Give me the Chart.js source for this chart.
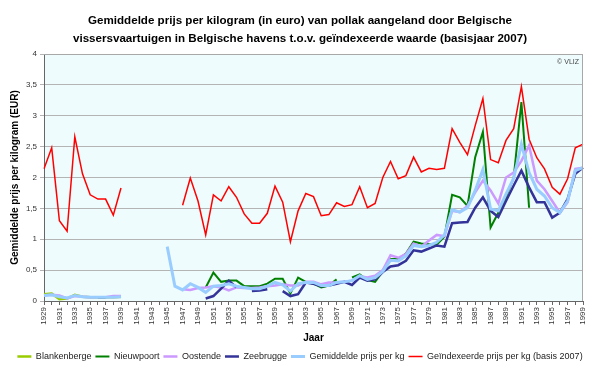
<!DOCTYPE html>
<html><head><meta charset="utf-8">
<script src="https://cdn.jsdelivr.net/npm/chart.js@4/dist/chart.umd.min.js"></script>
<style>html,body{margin:0;padding:0;background:#fff}#wrap{width:600px;height:368px}</style>
</head><body><div id="wrap"><canvas id="c" width="600" height="368"></canvas></div>
<script>
const years = [];
for (let y = 1929; y <= 1999; y++) years.push(String(y));

const blankenberge = [0.11,0.12,0.03,0.04,0.10,0.07,0.06,0.06,0.06,0.06,0.07,
  null,null,null,null,null,null,null,null,null,null,
  null,null,null,null,null,null,null,null,null,null,
  null,null,null,null,null,null,null,null,null,null,
  null,null,null,null,null,null,null,null,null,null,
  null,null,null,null,null,null,null,null,null,null,
  null,null,null,null,null,null,null,null,null,null];

const nieuwpoort = [null,null,null,null,null,null,null,0.05,0.05,
  null,null,null,null,null,null,null,null,null,null,null,null,
  0.22,0.46,0.31,0.33,0.33,0.24,0.24,0.24,0.28,0.36,
  0.36,0.12,0.38,0.31,0.28,0.22,0.25,0.35,null,0.38,
  0.43,0.34,0.31,0.48,0.68,0.68,0.77,0.96,0.93,0.92,
  0.91,1.04,1.72,1.68,1.54,2.33,2.74,1.19,1.43,1.68,
  2.00,3.22,1.51,
  null,null,null,null,null,null,null];

const oostende = [0.09,0.10,0.09,0.04,0.08,0.07,0.06,0.06,0.06,0.08,0.08,
  null,null,null,null,null,null,null,
  0.19,0.18,0.21,0.22,0.24,0.22,0.17,0.22,0.21,0.21,
  0.22,0.24,0.25,0.27,0.25,0.25,0.31,0.31,0.27,0.30,
  0.30,0.31,0.33,0.40,0.38,0.41,0.50,0.74,0.70,0.76,
  0.93,0.88,0.98,1.07,1.05,1.46,1.44,1.54,1.76,1.95,
  1.79,1.58,2.00,2.08,2.27,2.52,1.95,1.81,1.62,1.43,
  1.60,2.14,2.16];

const zeebrugge = [null,null,null,null,null,null,null,null,null,null,null,
  null,null,null,null,null,null,null,null,null,null,
  0.04,0.08,0.20,0.33,0.22,null,0.16,0.17,0.19,null,
  0.16,0.08,0.11,0.30,0.28,0.24,0.25,0.28,0.31,0.26,
  0.38,0.33,0.35,0.47,0.56,0.58,0.65,0.82,0.80,0.85,
  0.90,0.88,1.26,1.27,1.28,1.51,1.68,1.46,1.36,1.62,
  1.87,2.11,1.84,1.60,1.60,1.35,1.43,1.65,2.06,2.16];

const gemiddelde = [0.09,0.10,0.07,0.05,0.09,0.07,0.06,0.06,0.06,0.06,0.07,
  null,null,null,null,null,
  0.88,0.24,0.18,0.28,0.22,0.14,0.24,0.25,0.28,0.24,
  0.22,0.20,0.20,0.24,0.30,0.26,0.16,0.28,0.30,0.30,
  0.25,0.25,0.30,0.31,0.33,0.41,0.35,0.38,0.48,0.66,
  0.65,0.73,0.90,0.88,0.90,0.95,1.07,1.48,1.44,1.51,
  1.79,2.13,1.49,1.46,1.73,1.99,2.54,2.08,1.81,1.70,
  1.51,1.43,1.62,2.11,2.16];

const geindexeerd = [2.14,2.48,1.30,1.13,2.66,2.06,1.72,1.65,1.65,1.39,1.83,
  null,null,null,null,null,null,null,
  1.55,1.99,1.62,1.07,1.72,1.62,1.85,1.68,1.41,1.26,
  1.26,1.42,1.86,1.60,0.96,1.46,1.74,1.69,1.38,1.40,
  1.59,1.53,1.56,1.85,1.51,1.58,2.00,2.26,1.98,2.03,
  2.33,2.09,2.15,2.13,2.15,2.79,2.57,2.37,2.84,3.28,
  2.29,2.24,2.60,2.79,3.47,2.62,2.32,2.14,1.84,1.73,
  1.98,2.48,2.54];

const yTicks = [0,0.5,1,1.5,2,2.5,3,3.5,4];

const bgPlugin = {
  id: 'bg',
  beforeDraw(chart) {
    const a = chart.chartArea, ctx = chart.ctx;
    ctx.save();
    ctx.fillStyle = '#eefcfd';
    ctx.fillRect(a.left, a.top, a.right - a.left, a.bottom - a.top);
    ctx.restore();
  },
  afterDatasetsDraw(chart) {
    const a = chart.chartArea, ctx = chart.ctx;
    ctx.save();
    ctx.strokeStyle = '#a8a8a8';
    ctx.lineWidth = 1;
    ctx.beginPath();
    ctx.moveTo(a.left, a.top + 0.5);
    ctx.lineTo(a.right - 0.5, a.top + 0.5);
    ctx.lineTo(a.right - 0.5, a.bottom);
    ctx.stroke();
    ctx.fillStyle = '#444';
    ctx.font = '7px "Liberation Sans", Arial, sans-serif';
    ctx.textAlign = 'right';
    ctx.textBaseline = 'middle';
    ctx.fillText('\u00a9 VLIZ', a.right - 4, a.top + 8);
    ctx.restore();
  }
};

function ds(label, data, color, width, order) {
  return {label, data, borderColor: color, backgroundColor: color, borderWidth: width,
    pointRadius: 0, pointHoverRadius: 0, tension: 0, spanGaps: false, fill: false, order};
}

const FONT = '"Liberation Sans", Arial, sans-serif';

new Chart(document.getElementById('c'), {
  type: 'line',
  data: {
    labels: years,
    datasets: [
      ds('Blankenberge', blankenberge, '#99cc00', 2.5, 5),
      ds('Nieuwpoort', nieuwpoort, '#008000', 2, 4),
      ds('Oostende', oostende, '#cc99ff', 2.5, 3),
      ds('Zeebrugge', zeebrugge, '#333399', 2.5, 2),
      ds('Gemiddelde prijs per kg', gemiddelde, '#99ccff', 3, 1),
      ds('Geïndexeerde prijs per kg (basis 2007)', geindexeerd, '#ff0000', 1.5, 0)
    ]
  },
  options: {
    responsive: false,
    animation: false,
    devicePixelRatio: 1,
    layout: {padding: {left: 0, right: 0, top: 0, bottom: -3}},
    plugins: {
      tooltip: {enabled: false},
      title: {
        display: true,
        text: ['Gemiddelde prijs per kilogram (in euro) van pollak aangeland door Belgische',
               'vissersvaartuigen in Belgische havens t.o.v. geïndexeerde waarde (basisjaar 2007)'],
        color: '#000',
        font: {family: FONT, size: 11.6, weight: 'bold', lineHeight: 18 / 11.6},
        padding: {top: 12, bottom: 6}
      },
      legend: {
        position: 'bottom',
        labels: {
          usePointStyle: true,
          pointStyle: 'line',
          pointStyleWidth: 14,
          boxHeight: 9,
          padding: 4,
          color: '#222',
          font: {family: FONT, size: 9},
          sort: (a, b) => a.datasetIndex - b.datasetIndex
        }
      }
    },
    scales: {
      x: {
        type: 'category',
        offset: false,
        grid: {display: true, drawOnChartArea: false, drawTicks: true, tickLength: 4, color: '#666'},
        border: {display: true, color: '#666', width: 1},
        ticks: {
          autoSkip: false, maxRotation: 90, minRotation: 90, padding: 2,
          color: '#333',
          font: {family: FONT, size: 8},
          callback: function(v, i) { return (i % 2 === 0) ? years[i] : ''; }
        },
        title: {display: true, text: 'Jaar', color: '#000',
          font: {family: FONT, size: 10, weight: 'bold'},
          padding: {top: 0, bottom: 4}},
        afterFit(scale) { scale.height = 47; }
      },
      y: {
        min: 0, max: 4,
        afterBuildTicks(scale) { scale.ticks = yTicks.map(v => ({value: v})); },
        grid: {color: '#b4b4b4', lineWidth: 1, tickLength: 4, drawTicks: true},
        border: {display: true, color: '#666', width: 1},
        ticks: {
          color: '#333', padding: 3,
          font: {family: FONT, size: 8},
          callback: v => String(v).replace('.', ',')
        },
        title: {display: true, text: 'Gemiddelde prijs per kilogram (EUR)', color: '#000',
          font: {family: FONT, size: 10, weight: 'bold'},
          padding: {top: 9, bottom: 0}},
        afterFit(scale) { scale.width = 44; }
      },
      yRight: {
        position: 'right',
        display: true,
        grid: {display: false},
        border: {display: false},
        ticks: {display: false},
        afterFit(scale) { scale.width = 17; }
      }
    }
  },
  plugins: [bgPlugin]
});
</script>
</body></html>
